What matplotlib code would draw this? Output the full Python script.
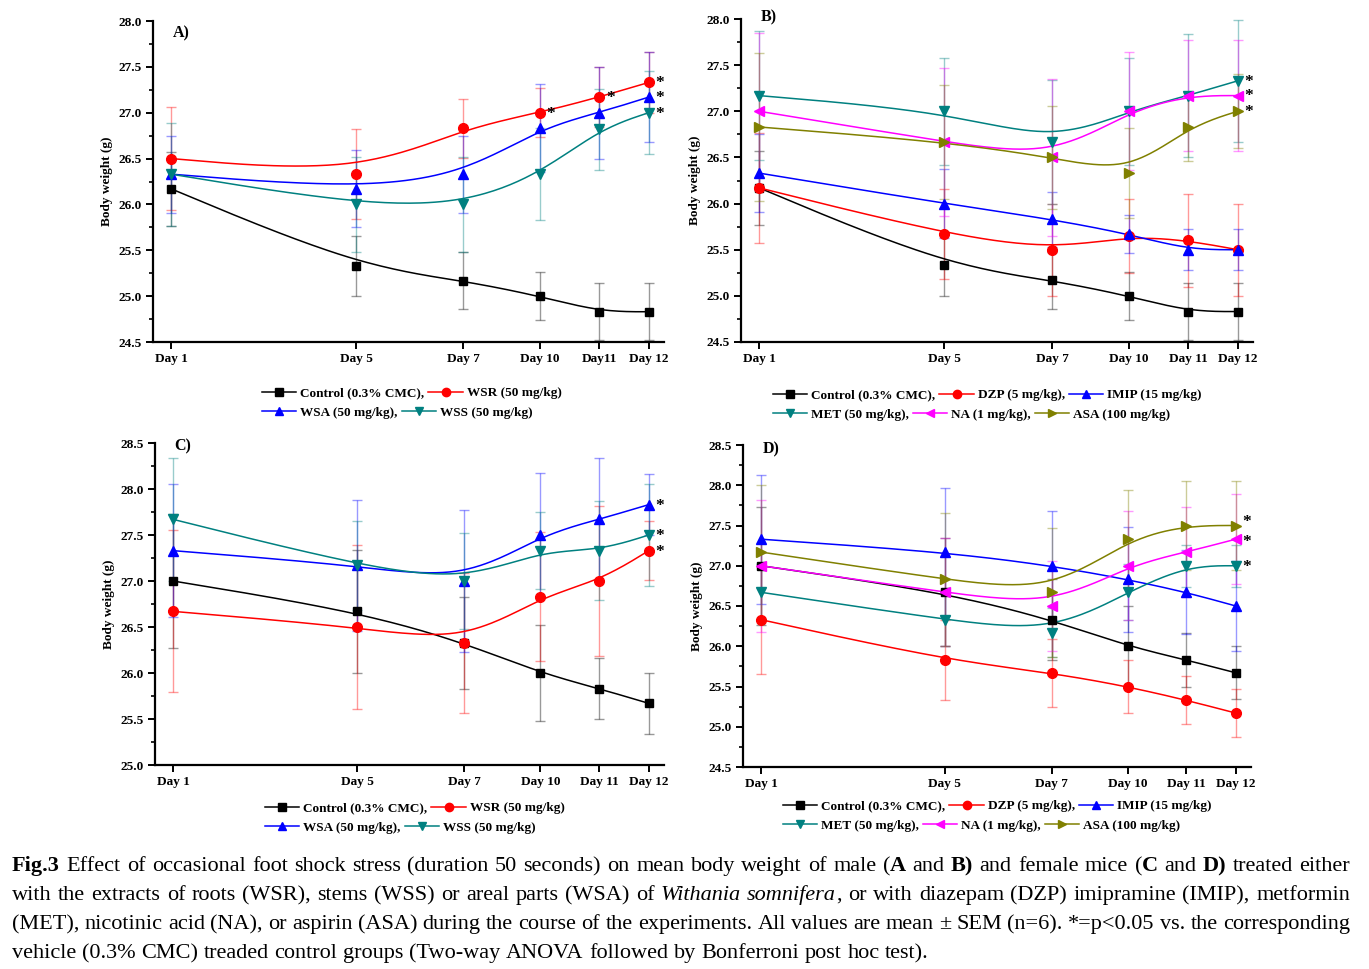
import numpy as np
import matplotlib
matplotlib.use("Agg")
import matplotlib.pyplot as plt
from matplotlib.lines import Line2D
from matplotlib.ticker import MultipleLocator

plt.rcParams["font.family"] = ["Liberation Serif", "DejaVu Serif"]

# ------------ Data ------------
days = ["Day 1", "Day 5", "Day 7", "Day 10", "Day 11", "Day 12"]
days_a = ["Day 1", "Day 5", "Day 7", "Day 10", "Day11", "Day 12"]
# uneven spacing of the day categories on the x axis (as in the original)
day_pos = [0, 3.87, 6.12, 7.72, 8.96, 10.0]

# panel A - males, extracts
a_control = [26.17, 25.33, 25.17, 25.00, 24.83, 24.83]
a_control_err = [0.40, 0.33, 0.31, 0.26, 0.31, 0.31]
a_wsr = [26.50, 26.33, 26.83, 27.00, 27.17, 27.33]
a_wsr_err = [0.56, 0.49, 0.32, 0.27, 0.33, 0.33]
a_wsa = [26.33, 26.17, 26.33, 26.83, 27.00, 27.17]
a_wsa_err = [0.42, 0.42, 0.42, 0.48, 0.50, 0.49]
a_wss = [26.33, 26.00, 26.00, 26.33, 26.82, 27.00]
a_wss_err = [0.56, 0.52, 0.52, 0.50, 0.44, 0.45]

# panel B - males, reference drugs
b_control = [26.17, 25.33, 25.17, 25.00, 24.83, 24.83]
b_control_err = [0.40, 0.33, 0.31, 0.26, 0.31, 0.31]
b_dzp = [26.17, 25.67, 25.50, 25.65, 25.60, 25.50]
b_dzp_err = [0.60, 0.49, 0.50, 0.40, 0.50, 0.50]
b_imip = [26.33, 26.00, 25.83, 25.67, 25.50, 25.50]
b_imip_err = [0.42, 0.37, 0.30, 0.21, 0.22, 0.22]
b_met = [27.17, 27.00, 26.67, 27.00, 27.17, 27.33]
b_met_err = [0.70, 0.58, 0.67, 0.58, 0.67, 0.66]
b_na = [27.00, 26.67, 26.50, 27.00, 27.17, 27.17]
b_na_err = [0.85, 0.80, 0.85, 0.64, 0.60, 0.60]
b_asa = [26.83, 26.67, 26.50, 26.33, 26.83, 27.00]
b_asa_err = [0.80, 0.62, 0.56, 0.49, 0.37, 0.40]

# panel C - females, extracts
c_control = [27.00, 26.67, 26.33, 26.00, 25.83, 25.67]
c_control_err = [0.73, 0.67, 0.50, 0.52, 0.33, 0.33]
c_wsr = [26.67, 26.50, 26.33, 26.83, 27.00, 27.33]
c_wsr_err = [0.88, 0.89, 0.76, 0.70, 0.82, 0.32]
c_wsa = [27.33, 27.17, 27.00, 27.50, 27.67, 27.83]
c_wsa_err = [0.72, 0.71, 0.77, 0.67, 0.67, 0.33]
c_wss = [27.67, 27.17, 27.00, 27.33, 27.33, 27.50]
c_wss_err = [0.67, 0.48, 0.52, 0.42, 0.54, 0.55]

# panel D - females, reference drugs
d_control = [27.00, 26.67, 26.33, 26.00, 25.83, 25.67]
d_control_err = [0.73, 0.67, 0.50, 0.50, 0.33, 0.33]
d_dzp = [26.33, 25.83, 25.67, 25.50, 25.33, 25.17]
d_dzp_err = [0.67, 0.50, 0.42, 0.33, 0.30, 0.30]
d_imip = [27.33, 27.17, 27.00, 26.83, 26.67, 26.50]
d_imip_err = [0.80, 0.79, 0.68, 0.65, 0.52, 0.56]
d_met = [26.67, 26.33, 26.17, 26.67, 27.00, 27.00]
d_met_err = [0.35, 0.33, 0.30, 0.35, 0.26, 0.26]
d_na = [27.00, 26.67, 26.50, 27.00, 27.17, 27.33]
d_na_err = [0.82, 0.67, 0.56, 0.68, 0.56, 0.56]
d_asa = [27.17, 26.83, 26.67, 27.33, 27.50, 27.50]
d_asa_err = [0.83, 0.83, 0.80, 0.61, 0.55, 0.55]

# significance marks: (series label, day index, vertical nudge in points)
a_stars = [("WSR", 3, 0), ("WSR", 4, 0), ("WSR", 5, 0), ("WSA", 5, 0), ("WSS", 5, 0)]
b_stars = [("MET", 5, 0), ("NA", 5, 0), ("ASA", 5, 0)]
c_stars = [("WSA", 5, 0), ("WSS", 5, 0), ("WSR", 5, 0)]
d_stars = [("ASA", 5, 3), ("NA", 5, -1.5), ("MET", 5, 0)]

caption_lines = [
    "^Fig.3^ Effect of occasional foot shock stress (duration 50 seconds) on mean body weight of male (^A^ and ^B)^ and female mice (^C^ and ^D)^ treated either",
    "with the extracts of roots (WSR), stems (WSS) or areal parts (WSA) of ~Withania somnifera~, or with diazepam (DZP) imipramine (IMIP), metformin",
    "(MET), nicotinic acid (NA), or aspirin (ASA) during the course of the experiments. All values are mean \u00b1 SEM (n=6). *=p<0.05 vs. the corresponding",
    "vehicle (0.3% CMC) treaded control groups (Two-way ANOVA followed by Bonferroni post hoc test).",
]

# ------------ Styles ------------
STYLE = {
    "Control": ("#000000", "s", 6.0),
    "WSR": ("#ff0000", "o", 7.0),
    "WSA": ("#0000ff", "^", 7.5),
    "WSS": ("#008080", "v", 7.5),
    "DZP": ("#ff0000", "o", 7.0),
    "IMIP": ("#0000ff", "^", 7.5),
    "MET": ("#008080", "v", 7.5),
    "NA": ("#ff00ff", "<", 7.5),
    "ASA": ("#808000", ">", 7.5),
}
LEG_NAMES = {
    "Control": "Control (0.3% CMC)",
    "WSR": "WSR (50 mg/kg)",
    "WSA": "WSA (50 mg/kg)",
    "WSS": "WSS (50 mg/kg)",
    "DZP": "DZP (5 mg/kg)",
    "IMIP": "IMIP (15 mg/kg)",
    "MET": "MET (50 mg/kg)",
    "NA": "NA (1 mg/kg)",
    "ASA": "ASA (100 mg/kg)",
}

W, H = 1369, 969
fig = plt.figure(figsize=(W / 100, H / 100), dpi=100)


def bspline(xs, ys, n=30):
    # uniform cubic B-spline with clamped ends (Origin-like smoothing)
    P = np.column_stack([xs, ys]).astype(float)
    P = np.vstack([P[0], P[0], P, P[-1], P[-1]])
    t = np.linspace(0, 1, n)[:, None]
    b0 = (1 - t) ** 3 / 6
    b1 = (3 * t**3 - 6 * t**2 + 4) / 6
    b2 = (-3 * t**3 + 3 * t**2 + 3 * t + 1) / 6
    b3 = t**3 / 6
    segs = [b0 * P[i] + b1 * P[i + 1] + b2 * P[i + 2] + b3 * P[i + 3] for i in range(len(P) - 3)]
    c = np.vstack(segs)
    return c[:, 0], c[:, 1]


def add_panel(rect_px, ylim, label, label_y, series, stars, ticklabels, legend_rows, legend_xy):
    left, top, right, bottom = rect_px
    ax = fig.add_axes([left / W, 1 - bottom / H, (right - left) / W, (bottom - top) / H])
    for name, vals, err in series:
        color, marker, ms = STYLE[name]
        ax.errorbar(day_pos, vals, yerr=err, fmt="none", ecolor=color, alpha=0.4,
                    elinewidth=1.0, capsize=3.5, capthick=1.0, zorder=2)
        sx, sy = bspline(day_pos, vals)
        ax.plot(sx, sy, color=color, lw=1.1, zorder=3)
        ax.plot(day_pos, vals, ls="none", marker=marker, color=color, ms=ms, zorder=4)
    lookup = {name: vals for name, vals, err in series}
    for name, i, dy in stars:
        ax.annotate("*", (day_pos[i], lookup[name][i]), xytext=(5, -3.5 + dy),
                    textcoords="offset points", fontsize=12.5, fontweight="bold",
                    ha="left", va="baseline")
    ax.set_xlim(-0.38, 10.32)
    ax.set_ylim(*ylim)
    ax.set_xticks(day_pos)
    ax.set_xticklabels(ticklabels)
    ax.yaxis.set_major_locator(MultipleLocator(0.5))
    ax.yaxis.set_minor_locator(MultipleLocator(0.25))
    ax.yaxis.set_major_formatter(matplotlib.ticker.FormatStrFormatter("%.1f"))
    for s in ("top", "right"):
        ax.spines[s].set_visible(False)
    for s in ("left", "bottom"):
        ax.spines[s].set_linewidth(1.6)
    ax.tick_params(which="major", length=5, width=1.4, labelsize=9.5, pad=3)
    ax.tick_params(which="minor", length=3, width=1.2)
    for t in ax.get_xticklabels() + ax.get_yticklabels():
        t.set_fontweight("bold")
    ax.set_ylabel("Body weight (g)", fontsize=9.5, fontweight="bold", labelpad=4)
    ax.text(0.038, label_y, label, transform=ax.transAxes, fontsize=11.5, fontweight="bold",
            ha="left", va="center")
    # legend rows, flowing left to right like the original
    lx, ly = legend_xy
    for r, row in enumerate(legend_rows):
        handles, labels = [], []
        for k, name in enumerate(row):
            color, marker, ms = STYLE[name]
            handles.append(Line2D([], [], color=color, marker=marker, ms=6, lw=1.1))
            labels.append(LEG_NAMES[name] + ("," if k < len(row) - 1 else ""))
        fig.legend(handles, labels, loc="center left", ncol=len(row),
                   bbox_to_anchor=(lx / W, 1 - (ly + r * 19.5) / H),
                   frameon=False, handlelength=2.6, handletextpad=0.3,
                   columnspacing=0.3, borderpad=0, borderaxespad=0,
                   prop={"size": 9.5, "weight": "bold"})
    return ax


add_panel((153, 21, 664, 342), (24.5, 28.0), "A)", 0.962,
          [("Control", a_control, a_control_err), ("WSR", a_wsr, a_wsr_err),
           ("WSA", a_wsa, a_wsa_err), ("WSS", a_wss, a_wss_err)],
          a_stars, days_a, [["Control", "WSR"], ["WSA", "WSS"]], (262, 393))

add_panel((741, 19, 1253, 342), (24.5, 28.0), "B)", 1.005,
          [("Control", b_control, b_control_err), ("DZP", b_dzp, b_dzp_err),
           ("IMIP", b_imip, b_imip_err), ("MET", b_met, b_met_err),
           ("NA", b_na, b_na_err), ("ASA", b_asa, b_asa_err)],
          b_stars, days, [["Control", "DZP", "IMIP"], ["MET", "NA", "ASA"]], (773, 395))

add_panel((155, 443, 664, 765), (25.0, 28.5), "C)", 0.99,
          [("Control", c_control, c_control_err), ("WSR", c_wsr, c_wsr_err),
           ("WSA", c_wsa, c_wsa_err), ("WSS", c_wss, c_wss_err)],
          c_stars, days, [["Control", "WSR"], ["WSA", "WSS"]], (265, 808))

add_panel((743, 445, 1251, 767), (24.5, 28.5), "D)", 0.987,
          [("Control", d_control, d_control_err), ("DZP", d_dzp, d_dzp_err),
           ("IMIP", d_imip, d_imip_err), ("MET", d_met, d_met_err),
           ("NA", d_na, d_na_err), ("ASA", d_asa, d_asa_err)],
          d_stars, days, [["Control", "DZP", "IMIP"], ["MET", "NA", "ASA"]], (783, 806))


# --------- Caption (justified, with bold / italic runs) ----------
def parse_words(line, state):
    words = []
    for w in line.split(" "):
        segs, buf = [], ""
        for ch in w:
            if ch in "^~":
                if buf:
                    segs.append((buf, dict(state)))
                buf = ""
                key = "bold" if ch == "^" else "italic"
                state[key] = not state[key]
            else:
                buf += ch
        if buf:
            segs.append((buf, dict(state)))
        words.append(segs)
    return words


renderer = fig.canvas.get_renderer()
CAP_SIZE = 16.0
x0, x1 = 12, 1350
state = {"bold": False, "italic": False}
sp = fig.text(0, 0, "a a", fontsize=CAP_SIZE)
sp2 = fig.text(0, 0, "aa", fontsize=CAP_SIZE)
space_w = sp.get_window_extent(renderer).width - sp2.get_window_extent(renderer).width
sp.remove()
sp2.remove()
for li, line in enumerate(caption_lines):
    base_y = 871 + li * 29
    words = parse_words(line, state)
    placed = []
    total = 0
    for segs in words:
        wtexts = []
        for txt, st in segs:
            t = fig.text(0, 1 - base_y / H, txt, fontsize=CAP_SIZE, va="baseline",
                         fontweight="bold" if st["bold"] else "normal",
                         fontstyle="italic" if st["italic"] else "normal")
            w = t.get_window_extent(renderer).width
            wtexts.append((t, w))
            total += w
        placed.append(wtexts)
    last = li == len(caption_lines) - 1
    gap = space_w if last else (x1 - x0 - total) / (len(placed) - 1)
    x = x0
    for wtexts in placed:
        for t, w in wtexts:
            t.set_x(x / W)
            x += w
        x += gap

fig.savefig("out.png", dpi=100)
